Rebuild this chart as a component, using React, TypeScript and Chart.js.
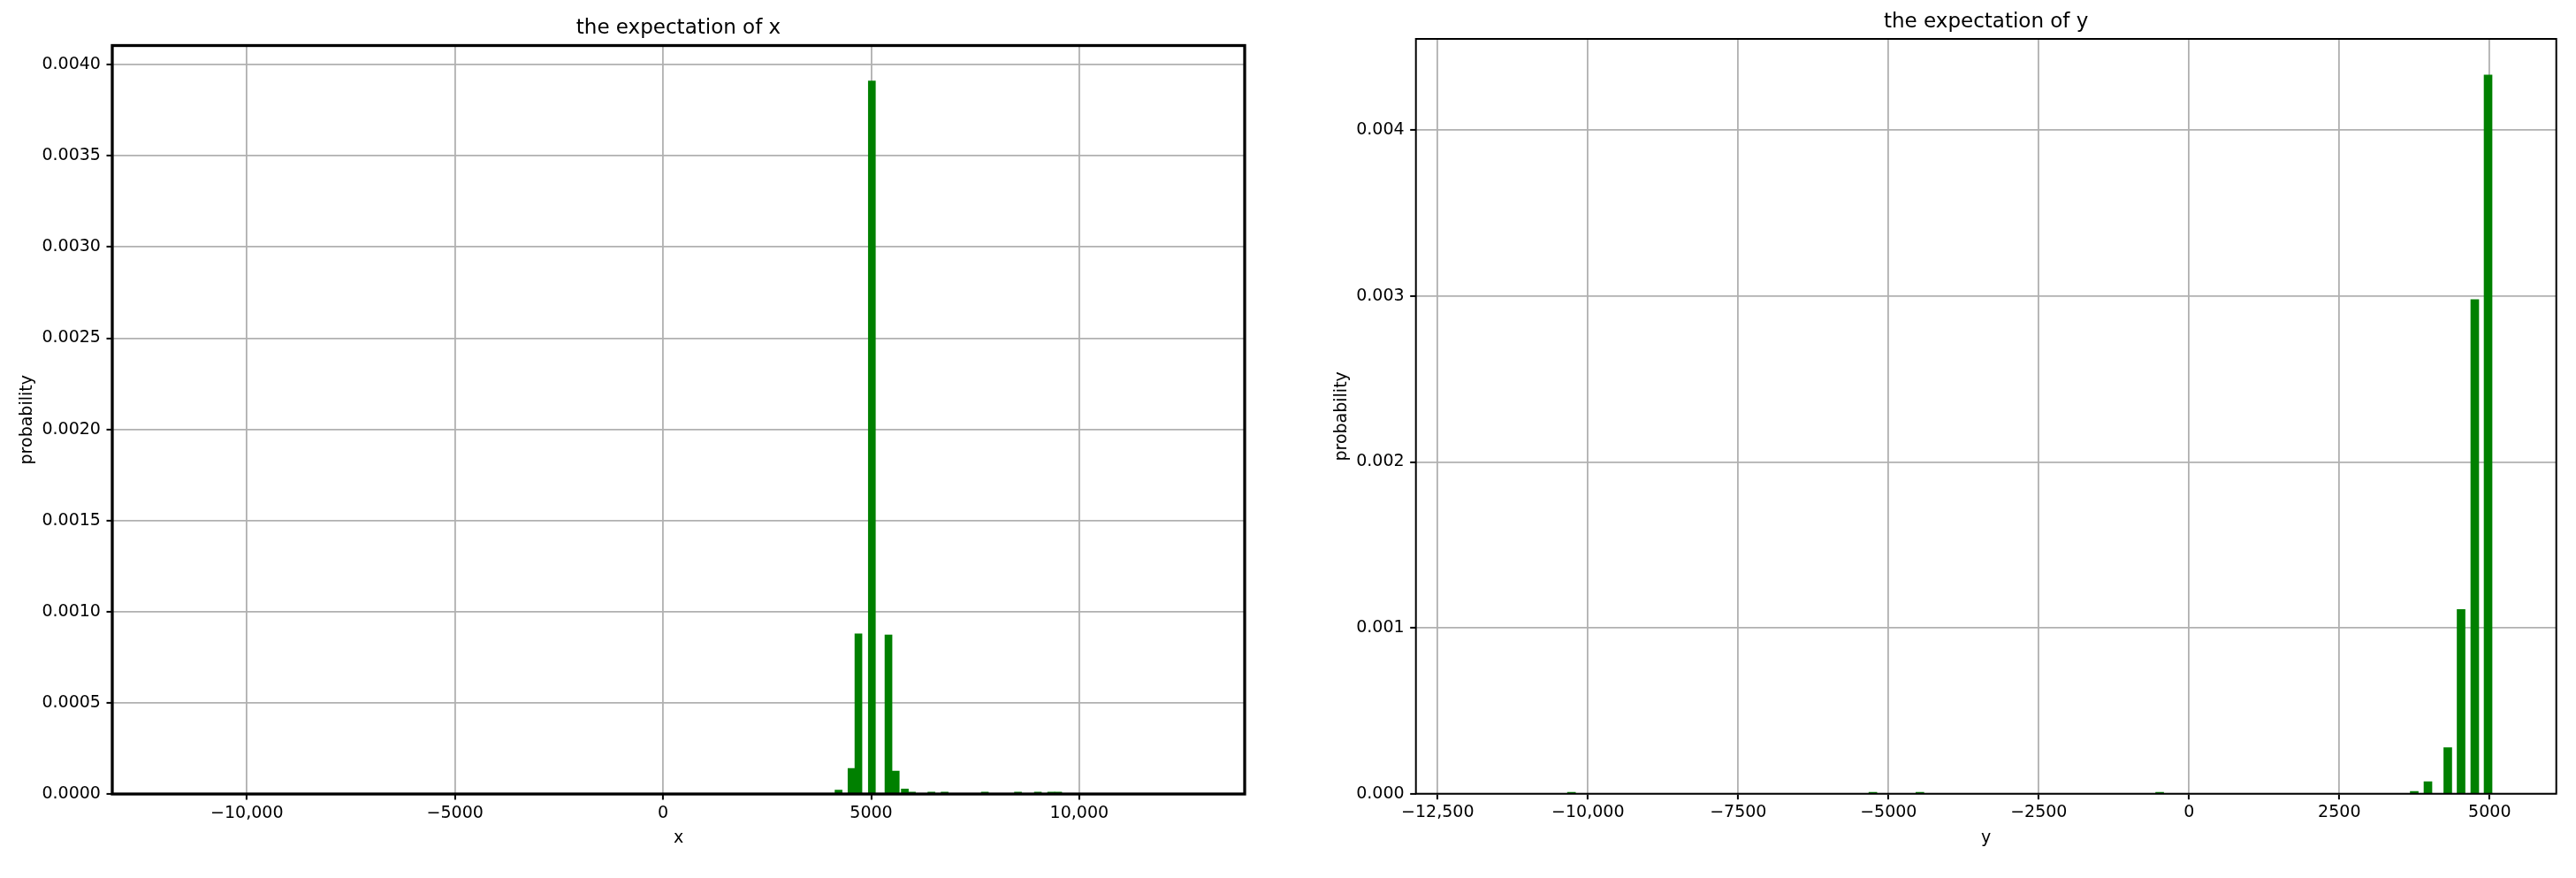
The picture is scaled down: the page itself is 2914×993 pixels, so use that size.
import React, { useEffect, useRef } from "react";
import { Chart, registerables } from "chart.js";

Chart.register(...registerables);

// ---------- data: left panel (expectation of x) ----------
const xBins = [4216, 4528, 4694, 5017, 5416, 5590, 5809, 5979, 6447, 6765, 7732, 8528, 9006, 9325, 9494];
const xProb = [0.000021, 0.00014, 0.000878, 0.003911, 0.000872, 0.000126, 0.0000275, 0.000011, 0.000011, 0.000011, 0.000011, 0.000011, 0.000011, 0.000011, 0.000011];
const xAxisTicks = [-10000, -5000, 0, 5000, 10000];
const xAxisTickLabels = ["\u221210,000", "\u22125000", "0", "5000", "10,000"];
const xProbTicks = [0, 0.0005, 0.001, 0.0015, 0.002, 0.0025, 0.003, 0.0035, 0.004];
const xProbTickLabels = ["0.0000", "0.0005", "0.0010", "0.0015", "0.0020", "0.0025", "0.0030", "0.0035", "0.0040"];

// ---------- data: right panel (expectation of y) ----------
const yBins = [-10274, -5260, -4478, -489, 3746, 3974, 4304, 4525, 4753, 4974];
const yProb = [0.000009, 0.000009, 0.000009, 0.000009, 0.000014, 0.000072, 0.000278, 0.001111, 0.002978, 0.004333];
const yAxisTicks = [-12500, -10000, -7500, -5000, -2500, 0, 2500, 5000];
const yAxisTickLabels = ["\u221212,500", "\u221210,000", "\u22127500", "\u22125000", "\u22122500", "0", "2500", "5000"];
const yProbTicks = [0, 0.001, 0.002, 0.003, 0.004];
const yProbTickLabels = ["0.000", "0.001", "0.002", "0.003", "0.004"];

const FONT = "'DejaVu Sans', 'Liberation Sans', sans-serif";
const GREEN = "#008000";
const GRID = "#b0b0b0";

type PanelCfg = {
  width: number;
  height: number;
  bins: number[];
  prob: number[];
  xTicks: number[];
  xTickLabels: string[];
  yTicks: number[];
  yTickLabels: string[];
  xMin: number;
  xMax: number;
  yMax: number;
  barPx: number;
  yAxisWidth: number;
  xAxisHeight: number;
  padTop: number;
  padRight: number;
  spine: number;
  title: string;
  titleY: number;
  xLabel: string;
  xLabelY: number;
  yLabel: string;
  yLabelX: number;
};

function makeDecor(cfg: PanelCfg) {
  return {
    id: "decor",
    afterDraw(chart: any) {
      const { ctx, chartArea: a } = chart;
      ctx.save();
      ctx.strokeStyle = "#000";
      ctx.lineWidth = cfg.spine;
      ctx.strokeRect(a.left, a.top, a.right - a.left, a.bottom - a.top);
      ctx.fillStyle = "#000";
      ctx.textAlign = "center";
      ctx.textBaseline = "alphabetic";
      ctx.font = `23px ${FONT}`;
      ctx.fillText(cfg.title, (a.left + a.right) / 2, cfg.titleY);
      ctx.font = `19px ${FONT}`;
      ctx.fillText(cfg.xLabel, (a.left + a.right) / 2, cfg.xLabelY);
      ctx.translate(cfg.yLabelX, (a.top + a.bottom) / 2);
      ctx.rotate(-Math.PI / 2);
      ctx.fillText(cfg.yLabel, 0, 0);
      ctx.restore();
    },
  };
}

function Panel({ cfg, left }: { cfg: PanelCfg; left: number }) {
  const ref = useRef<HTMLCanvasElement | null>(null);
  useEffect(() => {
    if (!ref.current) return;
    const tickFont = { family: FONT, size: 19 };
    const chart = new Chart(ref.current, {
      type: "bar",
      data: {
        datasets: [
          {
            data: cfg.bins.map((x, i) => ({ x, y: cfg.prob[i] })),
            backgroundColor: GREEN,
            borderWidth: 0,
            barThickness: cfg.barPx,
          } as any,
        ],
      },
      plugins: [makeDecor(cfg)],
      options: {
        responsive: false,
        maintainAspectRatio: false,
        devicePixelRatio: 1,
        animation: false,
        layout: { padding: { left: 0, top: cfg.padTop, right: cfg.padRight, bottom: 0 } },
        plugins: { legend: { display: false }, tooltip: { enabled: false }, title: { display: false } },
        scales: {
          x: {
            type: "linear",
            min: cfg.xMin,
            max: cfg.xMax,
            offset: false,
            z: 1,
            afterBuildTicks: (s: any) => {
              s.ticks = cfg.xTicks.map((v) => ({ value: v }));
            },
            afterFit: (s: any) => {
              s.height = cfg.xAxisHeight;
            },
            ticks: {
              callback: (_v: any, i: number) => cfg.xTickLabels[i],
              font: tickFont,
              color: "#000",
              padding: 3.7,
              maxRotation: 0,
              autoSkip: false,
            },
            grid: { offset: false, color: GRID, lineWidth: 1.8, tickLength: 6.5, tickColor: "#000", tickWidth: 2 },
            border: { display: false },
          },
          y: {
            type: "linear",
            min: 0,
            max: cfg.yMax,
            z: 1,
            afterBuildTicks: (s: any) => {
              s.ticks = cfg.yTicks.map((v) => ({ value: v }));
            },
            afterFit: (s: any) => {
              s.width = cfg.yAxisWidth;
            },
            ticks: {
              callback: (_v: any, i: number) => cfg.yTickLabels[i],
              font: tickFont,
              color: "#000",
              padding: 6.6,
              autoSkip: false,
            },
            grid: { color: GRID, lineWidth: 1.8, tickLength: 6.5, tickColor: "#000", tickWidth: 2 },
            border: { display: false },
          },
        },
      } as any,
    });
    return () => chart.destroy();
  }, [cfg]);
  return (
    <canvas
      ref={ref}
      width={cfg.width}
      height={cfg.height}
      style={{ position: "absolute", left, top: 0, width: cfg.width, height: cfg.height }}
    />
  );
}

const leftCfg: PanelCfg = {
  width: 1460,
  height: 993,
  bins: xBins,
  prob: xProb,
  xTicks: xAxisTicks,
  xTickLabels: xAxisTickLabels,
  yTicks: xProbTicks,
  yTickLabels: xProbTickLabels,
  xMin: -13235,
  xMax: 13975,
  yMax: 0.004105,
  barPx: 8,
  yAxisWidth: 127,
  xAxisHeight: 95,
  padTop: 51.5,
  padRight: 52,
  spine: 3.3,
  title: "the expectation of x",
  titleY: 37.5,
  xLabel: "x",
  xLabelY: 952.5,
  yLabel: "probability",
  yLabelX: 36,
};

const rightCfg: PanelCfg = {
  width: 1454,
  height: 993,
  bins: yBins,
  prob: yProb,
  xTicks: yAxisTicks,
  xTickLabels: yAxisTickLabels,
  yTicks: yProbTicks,
  yTickLabels: yProbTickLabels,
  xMin: -12862,
  xMax: 6109,
  yMax: 0.00455,
  barPx: 9,
  yAxisWidth: 141.7,
  xAxisHeight: 95.3,
  padTop: 44,
  padRight: 22.3,
  spine: 2,
  title: "the expectation of y",
  titleY: 31.3,
  xLabel: "y",
  xLabelY: 952.5,
  yLabel: "probability",
  yLabelX: 62.8,
};

export default function App() {
  return (
    <div style={{ position: "absolute", left: 0, top: 0, width: 2914, height: 993, background: "#fff" }}>
      <Panel cfg={leftCfg} left={0} />
      <Panel cfg={rightCfg} left={1460} />
    </div>
  );
}
